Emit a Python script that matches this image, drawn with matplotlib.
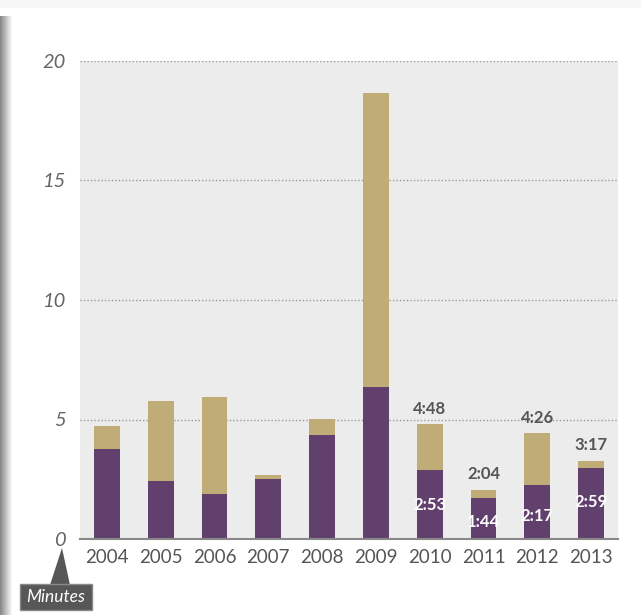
import matplotlib.pyplot as plt
from matplotlib.patches import Rectangle, Polygon
import numpy as np

years = ["2004", "2005", "2006", "2007", "2008", "2009", "2010", "2011", "2012", "2013"]
purple_vals = [3.77, 2.43, 1.88, 2.51, 4.35, 6.36, 2.88, 1.73, 2.28, 2.98]
totals = [4.73, 5.77, 5.94, 2.68, 5.02, 18.66, 4.80, 2.07, 4.43, 3.28]
top_labels = ["", "", "", "", "", "", "4:48", "2:04", "4:26", "3:17"]
inner_labels = ["", "", "", "", "", "", "2:53", "1:44", "2:17", "2:59"]
yticks = [0, 5, 10, 15, 20]

PURPLE = "#61406e"
TAN = "#bfac77"
TEXT = "#555555"

plt.rcParams['font.family'] = ['Lato', 'DejaVu Sans']

fig = plt.figure(figsize=(6.41, 6.15), dpi=100)
W, H = 641, 615

# card shadow on the left edge
for i, a in enumerate(np.linspace(0.7, 0.05, 12)):
    fig.patches.append(Rectangle((i / W, 0), 1.2 / W, 1 - 16 / H, transform=fig.transFigure,
                                 facecolor="#555555", alpha=a, edgecolor="none"))
fig.patches.append(Rectangle((0, 1 - 8 / H), 1, 8 / H, transform=fig.transFigure,
                             facecolor="#f7f7f7", edgecolor="none"))

ax = fig.add_axes([80 / W, 76 / H, 538 / W, 478 / H])
ax.set_facecolor("#ececec")

x = np.arange(len(years))
tan_vals = [t - p for t, p in zip(totals, purple_vals)]
ax.bar(x, purple_vals, width=0.48, color=PURPLE, zorder=3)
ax.bar(x, tan_vals, bottom=purple_vals, width=0.48, color=TAN, zorder=3)

ax.set_xlim(-0.5, len(years) - 0.5)
ax.set_ylim(0, 20)
ax.set_yticks(yticks)
ax.set_yticklabels([str(v) for v in yticks], fontstyle="italic", fontsize=14.5, color="#666666")
ax.set_xticks(x)
ax.set_xticklabels(years, fontsize=13.5, color=TEXT)
ax.tick_params(axis="both", length=0)
ax.tick_params(axis="y", pad=10)
ax.tick_params(axis="x", pad=7)

for v in yticks[1:]:
    ax.axhline(v, color="#999999", linestyle=(0, (1, 1.5)), linewidth=1, zorder=2)

for s in ["top", "right", "left"]:
    ax.spines[s].set_visible(False)
ax.spines["bottom"].set_color("#888888")
ax.spines["bottom"].set_linewidth(1.5)
ax.spines["bottom"].set_zorder(4)

for i in range(len(years)):
    if top_labels[i]:
        ax.text(x[i], totals[i] + 0.65, top_labels[i], ha="center", va="center",
                fontsize=12, fontweight="bold", color=TEXT, zorder=5)
    if inner_labels[i]:
        off = min(1.45, purple_vals[i] * 0.58)
        ax.text(x[i], purple_vals[i] - off, inner_labels[i], ha="center", va="center",
                fontsize=12, fontweight="bold", color="white", zorder=5)

# "Minutes" callout
fig.patches.append(Polygon([(50 / W, 1 - 585 / H), (62 / W, 1 - 548 / H), (70 / W, 1 - 585 / H)],
                           closed=True, transform=fig.transFigure, facecolor="#575757", edgecolor="none"))
fig.patches.append(Rectangle((20 / W, 1 - 610 / H), 72 / W, 26 / H, transform=fig.transFigure,
                             facecolor="#575757", edgecolor="#888888", linewidth=1))
fig.text(56 / W, 1 - 597 / H, "Minutes", ha="center", va="center", fontsize=12.5,
         fontstyle="italic", color="white")

fig.savefig("out.png", dpi=100)
